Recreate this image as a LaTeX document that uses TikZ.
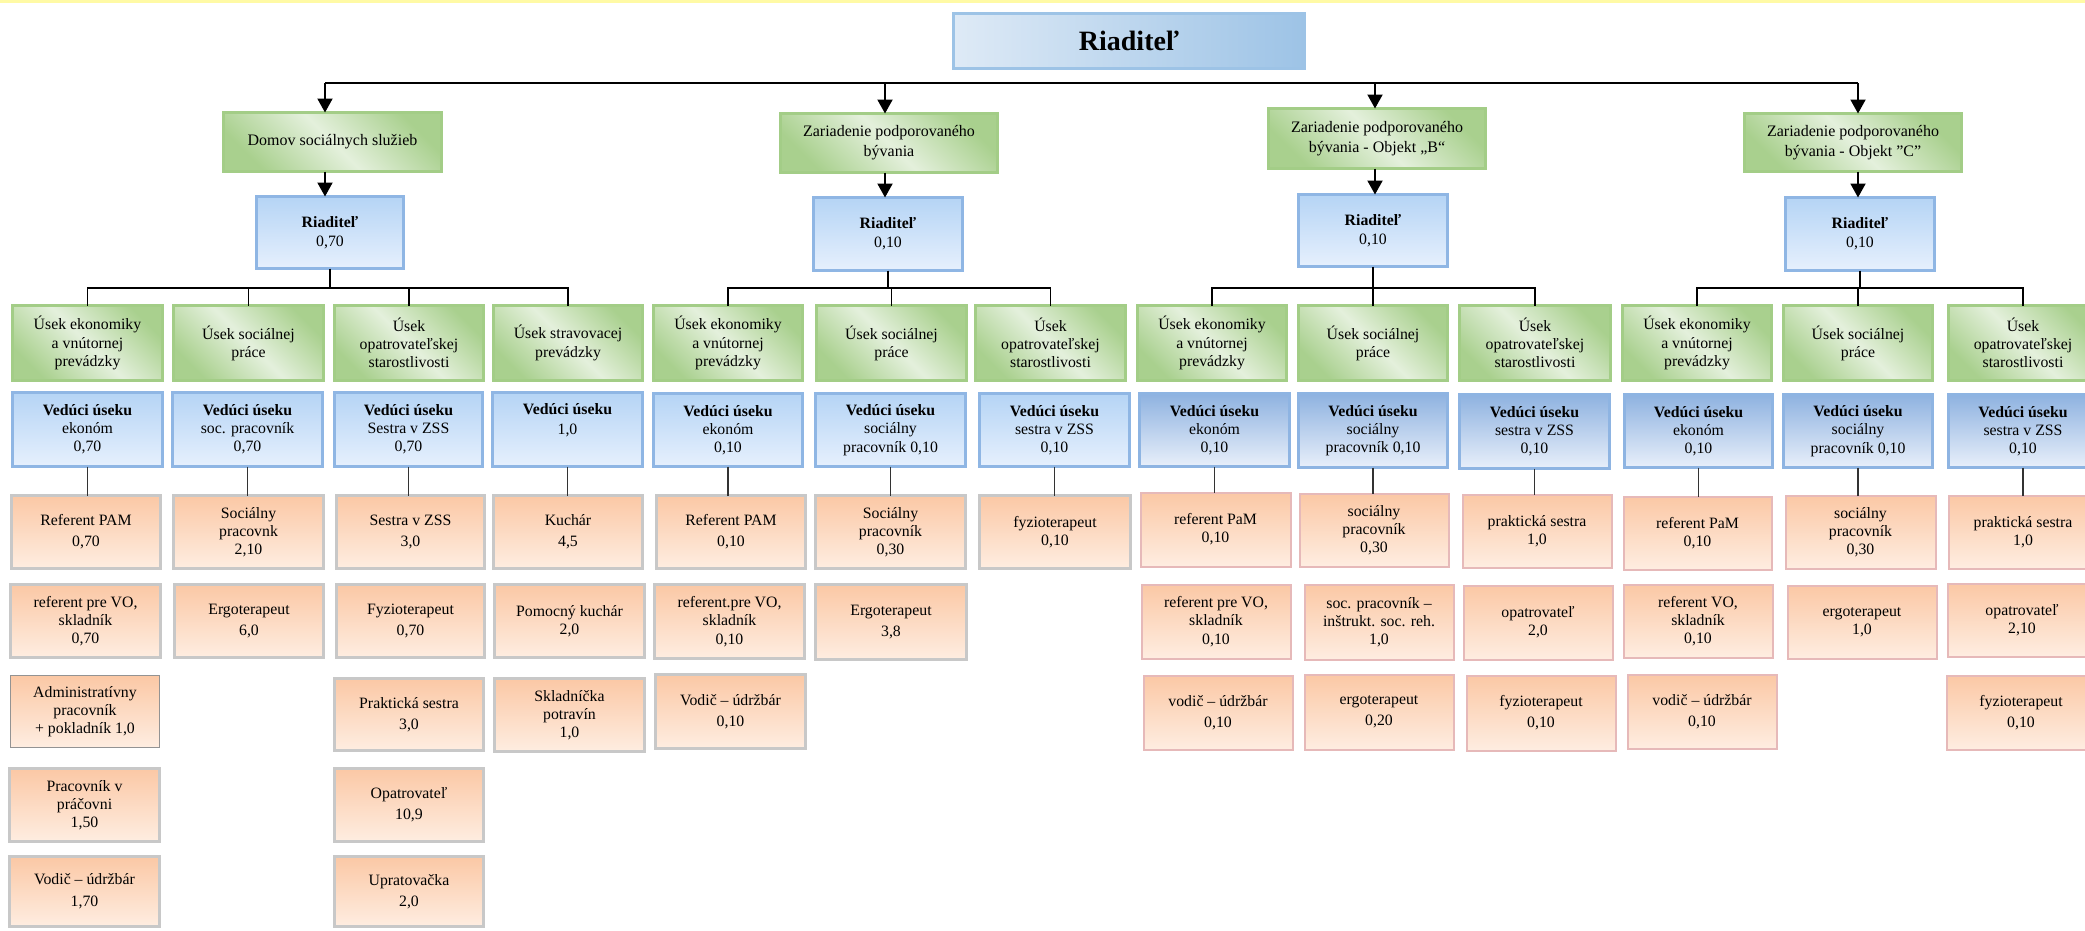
\documentclass[tikz,border=0pt]{standalone}
\usepackage{fontspec}
\setmainfont{Liberation Serif}
\usetikzlibrary{arrows.meta}
\definecolor{gdk}{RGB}{169,208,142}
\definecolor{glt}{RGB}{228,240,220}
\definecolor{gbd}{RGB}{163,205,135}
\definecolor{btp}{RGB}{181,212,245}
\definecolor{bbt}{RGB}{230,240,253}
\definecolor{bbd}{RGB}{143,182,228}
\definecolor{btp2}{RGB}{142,178,224}
\definecolor{bbt2}{RGB}{232,239,250}
\definecolor{bbd2}{RGB}{142,180,226}
\definecolor{otp}{RGB}{251,200,165}
\definecolor{obt}{RGB}{254,237,225}
\definecolor{ogr}{RGB}{200,200,200}
\definecolor{opk}{RGB}{230,185,185}
\definecolor{tlt}{RGB}{222,234,246}
\definecolor{tdk}{RGB}{157,195,230}
\definecolor{tbd}{RGB}{157,195,230}
\definecolor{ystrip}{RGB}{255,250,165}
\newcommand\boxfont{\fontsize{15.8}{18.2}\selectfont}
\newcommand\bx[7]{\node[#1,minimum width={#4-#2-3},minimum height={#5-#3-3}] (#6) at ({(#2+#4)/2},{(#3+#5)/2}) {#7};}
\tikzset{
  base/.style={line width=3pt, inner sep=0pt, outer sep=0pt, align=center, text=black, font=\boxfont},
  gbox/.style={base, draw=gbd, top color=gdk, bottom color=gdk, middle color=glt, shading angle=-45},
  gboxa/.style={gbox, font=\fontsize{16}{20}\selectfont},
  bbox/.style={base, draw=bbd, top color=btp, bottom color=bbt},
  bboxb/.style={base, draw=bbd2, top color=btp2, bottom color=bbt2},
  obox/.style={base, draw=ogr, top color=otp, bottom color=obt},
  oboxp/.style={obox, draw=opk, line width=2pt},
  oboxd/.style={obox, draw=gray!85, line width=1.6pt},
  tbox/.style={base, draw=tbd, left color=tlt, right color=tdk, font=\fontsize{28}{32}\selectfont\bfseries},
  bus/.style={line width=2pt, black},
  arr/.style={line width=2pt, black, -{Triangle[length=14pt,width=15pt]}},
  sub/.style={line width=1.3pt, black},
  subb/.style={line width=1.5pt, black!80},
}
\begin{document}
\begin{tikzpicture}[x=1pt,y=-1pt]
\useasboundingbox (0,0) rectangle (2085,930);
\fill[white] (0,0) rectangle (2085,930);
\fill[ystrip] (0,0) rectangle (2085,3);
\begin{scope}
\clip (0,0) rectangle (2085,930);
% top
\bx{tbox}{952}{12}{1306}{70}{dir}{Riaditeľ}
% level 1
\bx{gboxa}{222}{111}{443}{173}{dss}{Domov sociálnych služieb}
\bx{gboxa}{779}{112}{999}{174}{zpb}{Zariadenie podporovaného\\bývania}
\bx{gboxa}{1267}{107}{1487}{170}{zpbb}{Zariadenie podporovaného\\bývania - Objekt „B“}
\bx{gboxa}{1743}{112}{1963}{173}{zpbc}{Zariadenie podporovaného\\bývania - Objekt ”C”}
% level 2
\bx{bbox}{255}{195}{405}{270}{dssr}{\textbf{Riaditeľ}\\[1pt]0,70}
\bx{bbox}{812}{196}{964}{272}{zpbr}{\textbf{Riaditeľ}\\[1pt]0,10}
\bx{bbox}{1297}{193}{1449}{268}{zpbbr}{\textbf{Riaditeľ}\\[1pt]0,10}
\bx{bbox}{1784}{196}{1936}{272}{zpbcr}{\textbf{Riaditeľ}\\[1pt]0,10}
% level 3 green
\bx{gbox}{11}{304}{164}{382}{d1g}{Úsek ekonomiky\\a vnútornej\\prevádzky}
\bx{gbox}{172}{304}{325}{382}{d2g}{Úsek sociálnej\\práce}
\bx{gbox}{333}{304}{485}{382}{d3g}{Úsek\\opatrovateľskej\\starostlivosti}
\bx{gbox}{492}{304}{644}{382}{d4g}{Úsek stravovacej\\prevádzky}
\bx{gbox}{652}{304}{804}{382}{z1g}{Úsek ekonomiky\\a vnútornej\\prevádzky}
\bx{gbox}{815}{304}{968}{382}{z2g}{Úsek sociálnej\\práce}
\bx{gbox}{974}{304}{1127}{382}{z3g}{Úsek\\opatrovateľskej\\starostlivosti}
\bx{gbox}{1136}{304}{1288}{382}{b1g}{Úsek ekonomiky\\a vnútornej\\prevádzky}
\bx{gbox}{1297}{304}{1449}{382}{b2g}{Úsek sociálnej\\práce}
\bx{gbox}{1458}{304}{1612}{382}{b3g}{Úsek\\opatrovateľskej\\starostlivosti}
\bx{gbox}{1621}{304}{1773}{382}{c1g}{Úsek ekonomiky\\a vnútornej\\prevádzky}
\bx{gbox}{1782}{304}{1934}{382}{c2g}{Úsek sociálnej\\práce}
\bx{gbox}{1947}{304}{2099}{382}{c3g}{Úsek\\opatrovateľskej\\starostlivosti}
% level 3 blue
\bx{bbox}{11}{391}{164}{468}{d1b}{\textbf{Vedúci úseku}\\ekonóm\\0,70}
\bx{bbox}{171}{391}{324}{468}{d2b}{\textbf{Vedúci úseku}\\soc. pracovník\\0,70}
\bx{bbox}{333}{391}{484}{468}{d3b}{\textbf{Vedúci úseku}\\Sestra v ZSS\\0,70}
\bx{bbox}{491}{391}{644}{468}{d4b}{\textbf{Vedúci úseku}\\[2pt]1,0\\[-2pt]\strut}
\bx{bbox}{652}{392}{804}{468}{z1b}{\textbf{Vedúci úseku}\\ekonóm\\0,10}
\bx{bbox}{814}{392}{967}{468}{z2b}{\textbf{Vedúci úseku}\\sociálny\\pracovník 0,10}
\bx{bbox}{978}{392}{1131}{468}{z3b}{\textbf{Vedúci úseku}\\sestra v ZSS\\0,10}
\bx{bboxb}{1138}{392}{1291}{468}{b1b}{\textbf{Vedúci úseku}\\ekonóm\\0,10}
\bx{bboxb}{1297}{392}{1449}{469}{b2b}{\textbf{Vedúci úseku}\\sociálny\\pracovník 0,10}
\bx{bboxb}{1458}{393}{1611}{470}{b3b}{\textbf{Vedúci úseku}\\sestra v ZSS\\0,10}
\bx{bboxb}{1623}{393}{1774}{469}{c1b}{\textbf{Vedúci úseku}\\ekonóm\\0,10}
\bx{bboxb}{1782}{393}{1934}{469}{c2b}{\textbf{Vedúci úseku}\\sociálny\\pracovník 0,10}
\bx{bboxb}{1947}{393}{2099}{469}{c3b}{\textbf{Vedúci úseku}\\sestra v ZSS\\0,10}
% orange row 1
\bx{obox}{10}{494}{162}{570}{d1o1}{Referent PAM\\[3pt]0,70}
\bx{obox}{172}{494}{325}{570}{d2o1}{Sociálny\\pracovnk\\2,10}
\bx{obox}{335}{494}{486}{570}{d3o1}{Sestra v ZSS\\[3pt]3,0}
\bx{obox}{492}{494}{644}{570}{d4o1}{Kuchár\\[3pt]4,5}
\bx{obox}{655}{494}{807}{570}{z1o1}{Referent PAM\\[3pt]0,10}
\bx{obox}{814}{494}{967}{570}{z2o1}{Sociálny\\pracovník\\0,30}
\bx{obox}{978}{494}{1132}{570}{z3o1}{fyzioterapeut\\0,10}
\bx{oboxp}{1139}{491}{1292}{568}{b1o1}{referent PaM\\0,10}
\bx{oboxp}{1298}{492}{1450}{568}{b2o1}{sociálny\\pracovník\\0,30}
\bx{oboxp}{1461}{493}{1613}{569}{b3o1}{praktická sestra\\1,0}
\bx{oboxp}{1622}{495}{1773}{571}{c1o1}{referent PaM\\0,10}
\bx{oboxp}{1784}{494}{1937}{570}{c2o1}{sociálny\\pracovník\\0,30}
\bx{oboxp}{1947}{494}{2099}{570}{c3o1}{praktická sestra\\1,0}
% orange row 2
\bx{obox}{9}{583}{162}{659}{d1o2}{referent pre VO,\\skladník\\0,70}
\bx{obox}{173}{583}{325}{659}{d2o2}{Ergoterapeut\\[3pt]6,0}
\bx{obox}{335}{583}{486}{659}{d3o2}{Fyzioterapeut\\[3pt]0,70}
\bx{obox}{493}{583}{646}{659}{d4o2}{Pomocný kuchár\\2,0}
\bx{obox}{653}{583}{806}{660}{z1o2}{referent.pre VO,\\skladník\\0,10}
\bx{obox}{814}{583}{968}{661}{z2o2}{Ergoterapeut\\[3pt]3,8}
\bx{oboxp}{1140}{583}{1292}{660}{b1o2}{referent pre VO,\\skladník\\0,10}
\bx{oboxp}{1303}{583}{1455}{661}{b2o2}{soc. pracovník –\\inštrukt. soc. reh.\\1,0}
\bx{oboxp}{1462}{584}{1614}{661}{b3o2}{opatrovateľ\\2,0}
\bx{oboxp}{1622}{583}{1774}{659}{c1o2}{referent VO,\\skladník\\0,10}
\bx{oboxp}{1786}{584}{1938}{660}{c2o2}{ergoterapeut\\1,0}
\bx{oboxp}{1946}{582}{2098}{658}{c3o2}{opatrovateľ\\2,10}
% orange row 3
\bx{oboxd}{9}{674}{161}{749}{d1o3}{Administratívny\\pracovník\\+ pokladník 1,0}
\bx{obox}{333}{677}{485}{752}{d3o3}{Praktická sestra\\[3pt]3,0}
\bx{obox}{493}{677}{646}{753}{d4o3}{Skladníčka\\potravín\\1,0}
\bx{obox}{654}{673}{807}{750}{z1o3}{Vodič – údržbár\\[3pt]0,10}
\bx{oboxp}{1142}{674}{1294}{751}{b1o3}{vodič – údržbár\\[3pt]0,10}
\bx{oboxp}{1303}{673}{1455}{751}{b2o3}{ergoterapeut\\[3pt]0,20}
\bx{oboxp}{1465}{674}{1617}{752}{b3o3}{fyzioterapeut\\[3pt]0,10}
\bx{oboxp}{1626}{673}{1778}{750}{c1o3}{vodič – údržbár\\[3pt]0,10}
\bx{oboxp}{1945}{674}{2097}{751}{c3o3}{fyzioterapeut\\[3pt]0,10}
% orange row 4, 5
\bx{obox}{8}{767}{161}{843}{d1o4}{Pracovník v\\práčovni\\1,50}
\bx{obox}{333}{767}{485}{843}{d3o4}{Opatrovateľ\\[3pt]10,9}
\bx{obox}{8}{855}{161}{928}{d1o5}{Vodič – údržbár\\[4pt]1,70}
\bx{obox}{333}{855}{485}{928}{d3o5}{Upratovačka\\[3pt]2,0}
% top bus and arrows
\coordinate (a1) at (325,83);
\coordinate (a2) at (885,83);
\coordinate (a3) at (1375,83);
\coordinate (a4) at (1858,83);
\draw[bus] (a1) -- (a4);
\draw[arr] (a1) -- (a1 |- dss.north);
\draw[arr] (a2) -- (a2 |- zpb.north);
\draw[arr] (a3) -- (a3 |- zpbb.north);
\draw[arr] (a4) -- (a4 |- zpbc.north);
\draw[arr] (a1 |- dss.south) -- (a1 |- dssr.north);
\draw[arr] (a2 |- zpb.south) -- (a2 |- zpbr.north);
\draw[arr] (a3 |- zpbb.south) -- (a3 |- zpbbr.north);
\draw[arr] (a4 |- zpbc.south) -- (a4 |- zpbcr.north);
% sub buses
\coordinate (yb) at (0,288);
\foreach \r/\f/\l/\m in {dssr/d1g/d4g/{d2g,d3g}, zpbr/z1g/z3g/{z2g}, zpbbr/b1g/b3g/{b2g}, zpbcr/c1g/c3g/{c2g}}{
  \draw[sub] (\f.north) -- (\f.north |- yb) -- (\l.north |- yb) -- (\l.north);
  \draw[sub] (\r.south) -- (\r.south |- yb);
  \foreach \g in \m {\draw[sub] (\g.north) -- (\g.north |- yb);}
}
% leader to first staff box
\foreach \b/\o in {d1b/d1o1, d2b/d2o1, d3b/d3o1, d4b/d4o1, z1b/z1o1, z2b/z2o1, z3b/z3o1, b1b/b1o1, b2b/b2o1, b3b/b3o1, c1b/c1o1, c2b/c2o1, c3b/c3o1}{
  \draw[subb] (\b.south) -- (\b.south |- \o.north);
}
\end{scope}
\end{tikzpicture}
\end{document}
